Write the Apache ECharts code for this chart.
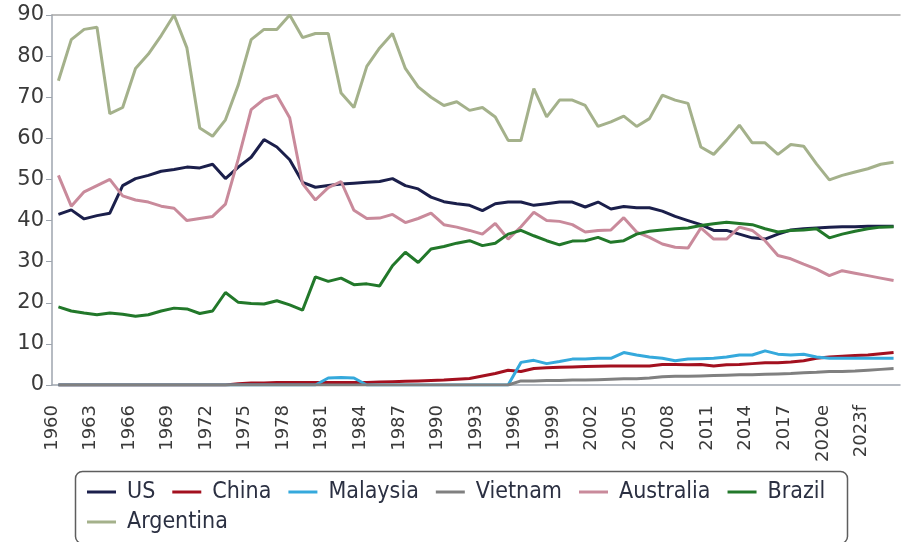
<!DOCTYPE html>
<html>
<head>
<meta charset="utf-8">
<script src="https://cdn.jsdelivr.net/npm/echarts@6/dist/echarts.min.js"></script>
<style>
    html, body { margin: 0; padding: 0; background: #fff; }
    #chart { width: 901px; height: 542px; }
</style>
</head>
<body>
<div id="chart"></div>
<script>
    // years on the category axis (1960 .. 2025)
    var years = ['1960','1961','1962','1963','1964','1965','1966','1967','1968','1969',
        '1970','1971','1972','1973','1974','1975','1976','1977','1978','1979',
        '1980','1981','1982','1983','1984','1985','1986','1987','1988','1989',
        '1990','1991','1992','1993','1994','1995','1996','1997','1998','1999',
        '2000','2001','2002','2003','2004','2005','2006','2007','2008','2009',
        '2010','2011','2012','2013','2014','2015','2016','2017','2018','2019',
        '2020e','2021e','2022f','2023f','2024f','2025f'];
    // labels sit on the tick boundaries, one more boundary than years
    var tickLabels = years.concat(['']);

    var us = [41.5,42.6,40.4,41.2,41.8,48.5,50.2,51,52,52.4,
        53,52.8,53.7,50.2,53,55.4,59.7,57.9,54.8,49.3,
        48.1,48.5,48.9,49.1,49.3,49.5,50.2,48.5,47.7,45.7,
        44.6,44.1,43.7,42.4,44.1,44.5,44.5,43.7,44.1,44.5,
        44.5,43.3,44.5,42.8,43.4,43.1,43.1,42.3,41,40,
        39,37.6,37.6,36.7,35.8,35.5,36.7,37.7,38,38.2,
        38.4,38.5,38.5,38.6,38.6,38.6];
    var china = [0,0,0,0,0,0,0,0,0,0,
        0,0,0,0,0.3,0.5,0.5,0.6,0.6,0.6,
        0.6,0.6,0.6,0.6,0.6,0.7,0.8,0.9,1,1.1,
        1.2,1.4,1.6,2.2,2.8,3.6,3.3,4,4.2,4.3,
        4.4,4.5,4.55,4.6,4.6,4.6,4.6,5,5,4.9,
        5,4.6,4.9,5,5.2,5.4,5.4,5.6,5.9,6.5,
        6.8,7,7.2,7.3,7.6,7.9];
    var malaysia = [0,0,0,0,0,0,0,0,0,0,
        0,0,0,0,0,0,0,0,0,0,
        0,1.7,1.8,1.7,0,0,0,0,0,0,
        0,0,0,0,0,0,5.5,6,5.2,5.7,
        6.3,6.3,6.5,6.5,7.9,7.3,6.8,6.5,5.9,6.3,
        6.4,6.5,6.8,7.3,7.3,8.3,7.5,7.3,7.5,6.8,
        6.5,6.5,6.5,6.5,6.5,6.5];
    var vietnam = [0,0,0,0,0,0,0,0,0,0,
        0,0,0,0,0,0,0,0,0,0,
        0,0,0,0,0,0,0,0,0,0,
        0,0,0,0,0,0,1,1,1.1,1.1,
        1.2,1.2,1.3,1.4,1.5,1.5,1.7,2,2.1,2.1,
        2.2,2.3,2.4,2.5,2.5,2.6,2.7,2.8,3,3.1,
        3.3,3.3,3.4,3.6,3.8,4];
    var australia = [51,43.5,47,48.5,50,46,45,44.5,43.5,43,
        40,40.5,41,44,55,67,69.5,70.5,65,49,
        45,48,49.5,42.5,40.5,40.6,41.5,39.5,40.5,41.8,
        39,38.4,37.6,36.7,39.3,35.5,38.5,42,40,39.8,
        39,37.2,37.6,37.7,40.7,37.2,35.9,34.3,33.5,33.3,
        38.2,35.5,35.5,38.4,37.6,35.1,31.5,30.7,29.4,28.2,
        26.6,27.8,27.2,26.6,26,25.4];
    var brazil = [19,18,17.5,17.1,17.5,17.2,16.7,17.1,18,18.7,
        18.5,17.4,18,22.5,20.1,19.8,19.7,20.5,19.5,18.2,
        26.3,25.2,26,24.4,24.6,24.1,29,32.3,29.8,33.1,
        33.7,34.5,35.1,33.9,34.5,36.7,37.6,36.3,35.1,34.1,
        35,35.1,35.9,34.7,35.1,36.7,37.4,37.7,38,38.2,
        38.8,39.2,39.6,39.3,39,38,37.2,37.6,37.7,38,
        35.8,36.7,37.4,38,38.4,38.5];
    var argentina = [74,84,86.5,87,66,67.5,77,80.5,85,90,
        82,62.5,60.5,64.5,73,84,86.5,86.5,90,84.5,
        85.5,85.5,71,67.5,77.5,82,85.5,77,72.5,70,
        68,68.9,66.8,67.5,65.2,59.5,59.5,72.1,65.2,69.3,
        69.3,68,62.9,64,65.4,62.9,64.8,70.5,69.3,68.5,
        57.9,56.1,59.5,63.2,58.9,58.9,56.1,58.5,58.1,53.8,
        49.9,51,51.8,52.6,53.7,54.2];

    var legendRow1 = ['US', 'China', 'Malaysia', 'Vietnam', 'Australia', 'Brazil'];
    var legendRow2 = ['Argentina'];

    var axisGrey = '#9ea5ae';

    function line(name, data, color) {
        return {
            name: name,
            type: 'line',
            xAxisIndex: 0,
            data: data,
            symbol: 'none',
            showSymbol: false,
            lineStyle: { color: color, width: 3 },
            itemStyle: { color: color }
        };
    }

    function legendRow(names, top) {
        return {
            data: names,
            left: 87,
            top: top,
            padding: 0,
            icon: 'rect',
            itemWidth: 29,
            itemHeight: 3,
            itemGap: 17,
            textStyle: {
                fontFamily: '"DejaVu Sans Condensed", "Liberation Sans Narrow", sans-serif',
                fontSize: 23,
                color: '#2b3042',
                padding: [0, 0, 0, 6]
            }
        };
    }

    var myChart = echarts.init(document.getElementById('chart'));
    myChart.setOption({
        animation: false,
        grid: { left: 52, right: 1, top: 15, bottom: 157 },
        // frame around both legend rows
        graphic: [{
            type: 'rect',
            left: 73,
            top: 469,
            shape: { width: 772, height: 72, r: 7 },
            style: { fill: 'none', stroke: '#5e5e5e', lineWidth: 1.5 },
            silent: true
        }],
        legend: [
            legendRow(legendRow1, 480.5),
            legendRow(legendRow2, 510.5)
        ],
        xAxis: [
            {
                type: 'category',
                position: 'bottom',
                data: years,
                boundaryGap: true,
                axisLine: { lineStyle: { color: axisGrey, width: 1.5 } },
                axisTick: { interval: 0, length: 6, lineStyle: { color: axisGrey } },
                axisLabel: { show: false }
            },
            {
                type: 'category',
                position: 'bottom',
                data: tickLabels,
                boundaryGap: false,
                axisLine: { show: false },
                axisTick: { show: false },
                axisLabel: {
                    interval: 2,
                    rotate: 90,
                    margin: 20,
                    fontFamily: '"DejaVu Sans", sans-serif',
                    fontSize: 18,
                    color: '#3a3a3a'
                }
            },
            {
                type: 'category',
                position: 'top',
                data: years,
                axisLine: { lineStyle: { color: '#a8a8a8', width: 1.5 } },
                axisTick: { show: false },
                axisLabel: { show: false }
            }
        ],
        yAxis: {
            type: 'value',
            min: 0,
            max: 90,
            interval: 10,
            axisLine: { show: true, lineStyle: { color: axisGrey, width: 1.5 } },
            axisTick: { show: true, length: 6, lineStyle: { color: axisGrey } },
            splitLine: { show: false },
            axisLabel: {
                margin: 8,
                fontFamily: '"DejaVu Sans", sans-serif',
                fontSize: 21,
                color: '#3a3a3a'
            }
        },
        series: [
            line('US', us, '#1b1f4b'),
            line('China', china, '#a3101f'),
            line('Malaysia', malaysia, '#35a9dc'),
            line('Vietnam', vietnam, '#808080'),
            line('Australia', australia, '#c98a9b'),
            line('Brazil', brazil, '#22782a'),
            line('Argentina', argentina, '#a4b18b')
        ]
    });
</script>
</body>
</html>
